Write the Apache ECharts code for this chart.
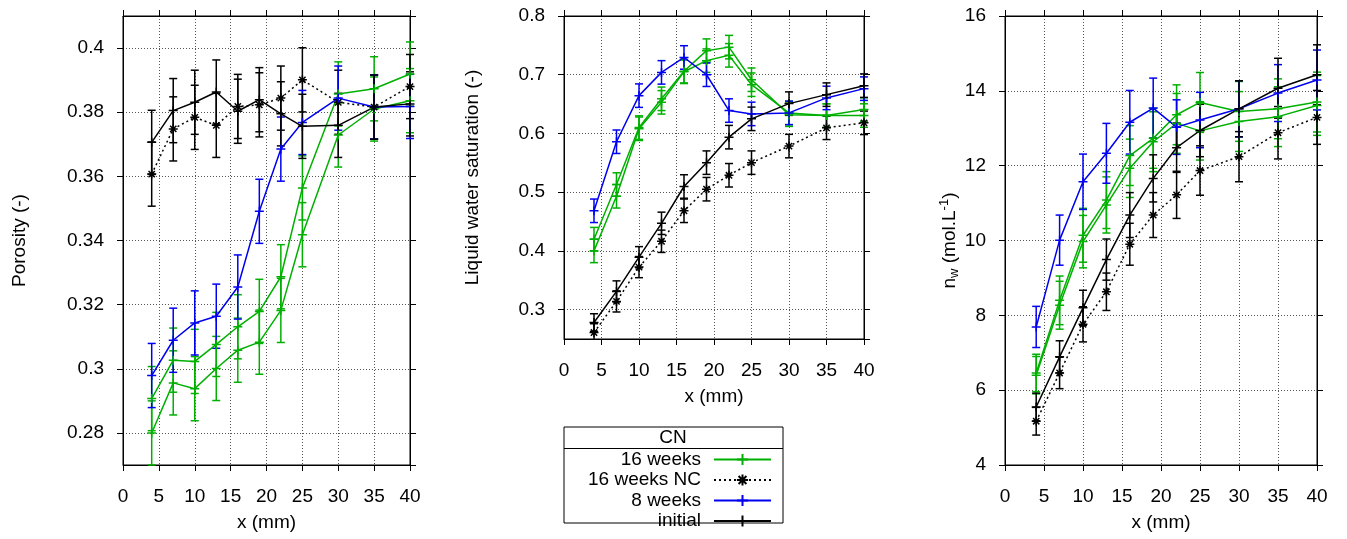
<!DOCTYPE html>
<html><head><meta charset="utf-8">
<script src="https://cdn.jsdelivr.net/npm/echarts@6/dist/echarts.min.js"></script>
<style>html,body{margin:0;padding:0;background:#fff}#c{width:1347px;height:539px}</style>
</head><body><div id="c"></div>
<script>
// ---- data ----
const xs = [4, 7, 10, 13, 16, 19, 22, 25, 30, 35, 40];

// Porosity (-)
const por16a  = [0.2907, 0.3027, 0.3023, 0.3076, 0.3131, 0.3179, 0.3287, 0.3564, 0.3857, 0.3873, 0.3919];
const por16b  = [0.2800, 0.2956, 0.2938, 0.3001, 0.3058, 0.3083, 0.3182, 0.3418, 0.3729, 0.3810, 0.3836];
const por16nc = [0.3607, 0.3748, 0.3784, 0.3759, 0.3818, 0.3823, 0.3844, 0.3901, 0.3831, 0.3816, 0.3880];
const por8    = [0.2979, 0.3089, 0.3143, 0.3164, 0.3255, 0.3491, 0.3685, 0.3768, 0.3844, 0.3816, 0.3818];
const porInit = [0.3706, 0.3805, 0.3831, 0.3863, 0.3803, 0.3839, 0.3795, 0.3756, 0.3759, 0.3816, 0.3826];
const porErr  = [0.01, 0.01, 0.01, 0.01, 0.01, 0.01, 0.01, 0.01, 0.01, 0.01, 0.01];

// Liquid water saturation (-)
const sat16a  = [0.420, 0.513, 0.610, 0.659, 0.706, 0.741, 0.747, 0.6915, 0.632, 0.6305, 0.6407];
const sat16b  = [0.400, 0.493, 0.608, 0.653, 0.705, 0.724, 0.733, 0.683, 0.635, 0.6305, 0.6305];
const sat16nc = [0.261, 0.314, 0.3724, 0.4164, 0.4683, 0.5051, 0.5288, 0.5503, 0.5785, 0.6096, 0.6181];
const sat8    = [0.4683, 0.5859, 0.6644, 0.7040, 0.7294, 0.700, 0.639, 0.6333, 0.635, 0.6605, 0.6763];
const satInit = [0.278, 0.331, 0.3893, 0.447, 0.5097, 0.5503, 0.5937, 0.6249, 0.6508, 0.6661, 0.6814];
const satErrG = [0.02, 0.02, 0.02, 0.02, 0.02, 0.02, 0.02, 0.02, 0.02, 0.02, 0.02];
const satErrK = [0.015, 0.018, 0.018, 0.019, 0.02, 0.02, 0.02, 0.02, 0.02, 0.02, 0.02];

// n_w (mol.L^-1)
const nw16a  = [6.46, 8.40, 10.14, 11.08, 12.27, 12.73, 13.36, 13.69, 13.45, 13.52, 13.70];
const nw16b  = [6.40, 8.27, 9.97, 10.95, 11.93, 12.64, 13.13, 12.93, 13.18, 13.31, 13.61];
const nw16nc = [5.17, 6.46, 7.76, 8.63, 9.90, 10.68, 11.22, 11.87, 12.24, 12.88, 13.29];
const nw8    = [7.69, 10.01, 11.57, 12.33, 13.16, 13.54, 13.03, 13.22, 13.52, 13.94, 14.29];
const nwInit = [5.55, 6.89, 8.20, 9.49, 10.68, 11.66, 12.48, 12.94, 13.52, 14.07, 14.43];
const nwErr16a = [0.50, 0.65, 0.72, 0.76, 0.80, 0.80, 0.80, 0.80, 0.80, 0.80, 0.80];
const nwErr16b = [0.50, 0.64, 0.70, 0.75, 0.78, 0.80, 0.80, 0.78, 0.80, 0.80, 0.80];
const nwErrNC  = [0.37, 0.42, 0.47, 0.50, 0.56, 0.60, 0.63, 0.66, 0.67, 0.70, 0.72];
const nwErr8   = [0.55, 0.67, 0.74, 0.80, 0.85, 0.80, 0.73, 0.74, 0.75, 0.76, 0.80];
const nwErrInit= [0.37, 0.43, 0.47, 0.55, 0.60, 0.63, 0.66, 0.70, 0.75, 0.80, 0.80];

const legendNames = ['16 weeks', '16 weeks NC', '8 weeks', 'initial'];
const yNames = ['Porosity (-)', 'Liquid water saturation (-)', 'n{sub|w} (mol.L{sup|-1})'];
const xName = 'x (mm)';

// ---- styling ----
const GREEN = '#00b000', BLUE = '#0000f0', BLACK = '#000000';
const FONT = 'Liberation Sans, Arial, sans-serif';
const FS = 19;
const PLUS = 'path://M0,5L10,5M5,0L5,10';
const STAR = 'path://M0,5L10,5M5,0L5,10M1.5,1.5L8.5,8.5M1.5,8.5L8.5,1.5';

const grids = [
  {left: 123, top: 16, width: 287, height: 449},
  {left: 564, top: 16, width: 300, height: 323},
  {left: 1005, top: 16, width: 312, height: 449}
];
const yCfg = [
  {min: 0.27, max: 0.41, splitNumber: 7, nameGap: 94, hideMax: true},
  {min: 0.25, max: 0.8, splitNumber: 5, nameGap: 82, hideMax: false},
  {min: 4, max: 16, interval: 2, nameGap: 27, hideMax: false}
];
const xNameGap = [48, 48, 48];

const xAxes = [], yAxes = [];
grids.forEach((g, i) => {
  const common = {
    gridIndex: i, min: 0, max: 40, interval: 5, type: 'value',
    axisLine: {show: true, onZero: false, lineStyle: {color: BLACK, width: 1}},
    axisTick: {show: true, inside: false, length: 6, lineStyle: {color: BLACK}},
  };
  xAxes.push(Object.assign({}, common, {
    position: 'bottom', name: xName, nameLocation: 'middle', nameGap: xNameGap[i],
    nameTextStyle: {fontSize: FS, color: BLACK, fontFamily: FONT},
    axisLabel: {fontSize: FS, color: BLACK, fontFamily: FONT, margin: 22},
    splitLine: {show: true, lineStyle: {color: '#555', width: 1, type: [1, 2]}}
  }));
  xAxes.push(Object.assign({}, common, {
    position: 'top', axisLabel: {show: false}, splitLine: {show: false}
  }));
  const yc = yCfg[i];
  const ycommon = {
    gridIndex: i, type: 'value', min: yc.min, max: yc.max,
    axisLine: {show: true, onZero: false, lineStyle: {color: BLACK, width: 1}},
    axisTick: {show: true, inside: false, length: 6, lineStyle: {color: BLACK}},
  };
  if (yc.interval) ycommon.interval = yc.interval; else ycommon.splitNumber = yc.splitNumber;
  yAxes.push(Object.assign({}, ycommon, {
    position: 'left', name: yNames[i], nameLocation: 'middle', nameGap: yc.nameGap, nameRotate: 90,
    nameTextStyle: {fontSize: FS, color: BLACK, fontFamily: FONT,
      rich: {sub: {fontSize: 13, verticalAlign: 'bottom', padding: [10, 0, 0, 0]},
             sup: {fontSize: 13, verticalAlign: 'top', padding: [0, 0, 8, 0]}}},
    axisLabel: {fontSize: FS, color: BLACK, fontFamily: FONT, margin: 19,
      showMinLabel: yc.interval ? true : false, showMaxLabel: !yc.hideMax},
    splitLine: {show: true, lineStyle: {color: '#555', width: 1, type: [1, 2]}}
  }));
  yAxes.push(Object.assign({}, ycommon, {
    position: 'right', axisLabel: {show: false}, splitLine: {show: false}
  }));
});

function lineSeries(name, gi, vals, color, dotted, sym) {
  return {
    type: 'line', name: name, xAxisIndex: gi * 2, yAxisIndex: gi * 2,
    data: xs.map((x, k) => [x, vals[k]]),
    symbol: sym, symbolSize: 9, showSymbol: true, clip: true,
    lineStyle: {color: color, width: 1.5, type: dotted ? [2, 3] : 'solid'},
    itemStyle: {color: color, borderColor: color, borderWidth: 1.5},
    emphasis: {disabled: true}, z: 4, animation: false
  };
}
function errSeries(name, gi, vals, errs, color) {
  return {
    type: 'custom', name: name, xAxisIndex: gi * 2, yAxisIndex: gi * 2,
    data: xs.map((x, k) => [x, vals[k], errs[k]]),
    z: 3, animation: false, silent: true,
    renderItem: function (params, api) {
      const x = api.value(0), y = api.value(1), e = api.value(2);
      const cs = params.coordSys;
      const top = api.coord([x, y + e]), bot = api.coord([x, y - e]);
      const yTop = Math.max(top[1], cs.y), yBot = Math.min(bot[1], cs.y + cs.height);
      const st = {stroke: color, lineWidth: 1.5};
      const ch = [{type: 'line', shape: {x1: top[0], y1: yTop, x2: top[0], y2: yBot}, style: st}];
      if (top[1] >= cs.y) ch.push({type: 'line', shape: {x1: top[0] - 4, y1: top[1], x2: top[0] + 4, y2: top[1]}, style: st});
      if (bot[1] <= cs.y + cs.height) ch.push({type: 'line', shape: {x1: bot[0] - 4, y1: bot[1], x2: bot[0] + 4, y2: bot[1]}, style: st});
      return {type: 'group', children: ch};
    }
  };
}

const panels = [
  {a: por16a, b: por16b, nc: por16nc, w8: por8, ini: porInit,
   ea: porErr, eb: porErr, enc: porErr, e8: porErr, eini: porErr},
  {a: sat16a, b: sat16b, nc: sat16nc, w8: sat8, ini: satInit,
   ea: satErrG, eb: satErrG, enc: satErrK, e8: satErrG, eini: satErrK},
  {a: nw16a, b: nw16b, nc: nw16nc, w8: nw8, ini: nwInit,
   ea: nwErr16a, eb: nwErr16b, enc: nwErrNC, e8: nwErr8, eini: nwErrInit}
];

const series = [];
panels.forEach((p, gi) => {
  series.push(lineSeries(legendNames[0], gi, p.a, GREEN, false, PLUS));
  series.push(lineSeries('16 weeks (2)', gi, p.b, GREEN, false, PLUS));
  series.push(lineSeries(legendNames[1], gi, p.nc, BLACK, true, STAR));
  series.push(lineSeries(legendNames[2], gi, p.w8, BLUE, false, PLUS));
  series.push(lineSeries(legendNames[3], gi, p.ini, BLACK, false, PLUS));
});
panels.forEach((p, gi) => {
  series.push(errSeries(legendNames[0], gi, p.a, p.ea, GREEN));
  series.push(errSeries('16 weeks (2)', gi, p.b, p.eb, GREEN));
  series.push(errSeries(legendNames[1], gi, p.nc, p.enc, BLACK));
  series.push(errSeries(legendNames[2], gi, p.w8, p.e8, BLUE));
  series.push(errSeries(legendNames[3], gi, p.ini, p.eini, BLACK));
});

const chart = echarts.init(document.getElementById('c'), null, {renderer: 'canvas'});
chart.setOption({
  backgroundColor: '#fff',
  animation: false,
  textStyle: {fontFamily: FONT},
  grid: grids.map(g => Object.assign({show: true, borderColor: BLACK, borderWidth: 1, backgroundColor: 'transparent'}, g)),
  xAxis: xAxes,
  yAxis: yAxes,
  legend: {
    data: legendNames, orient: 'vertical', align: 'right',
    right: 575, top: 450, padding: 0, itemGap: 1.5,
    itemWidth: 57, itemHeight: 14, selectedMode: false,
    textStyle: {fontSize: FS, color: BLACK, fontFamily: FONT, lineHeight: 19, padding: [0, 8, 0, 0]}
  },
  graphic: [
    {type: 'rect', shape: {x: 564, y: 427, width: 219, height: 96}, style: {fill: 'none', stroke: BLACK, lineWidth: 1}, z: 10},
    {type: 'line', shape: {x1: 564, y1: 448.5, x2: 783, y2: 448.5}, style: {stroke: BLACK, lineWidth: 1}, z: 10},
    {type: 'text', x: 673, y: 438, style: {text: 'CN', fontSize: FS, fontFamily: FONT, fill: BLACK, align: 'center', verticalAlign: 'middle'}, z: 10}
  ],
  series: series
});
</script>
</body></html>
